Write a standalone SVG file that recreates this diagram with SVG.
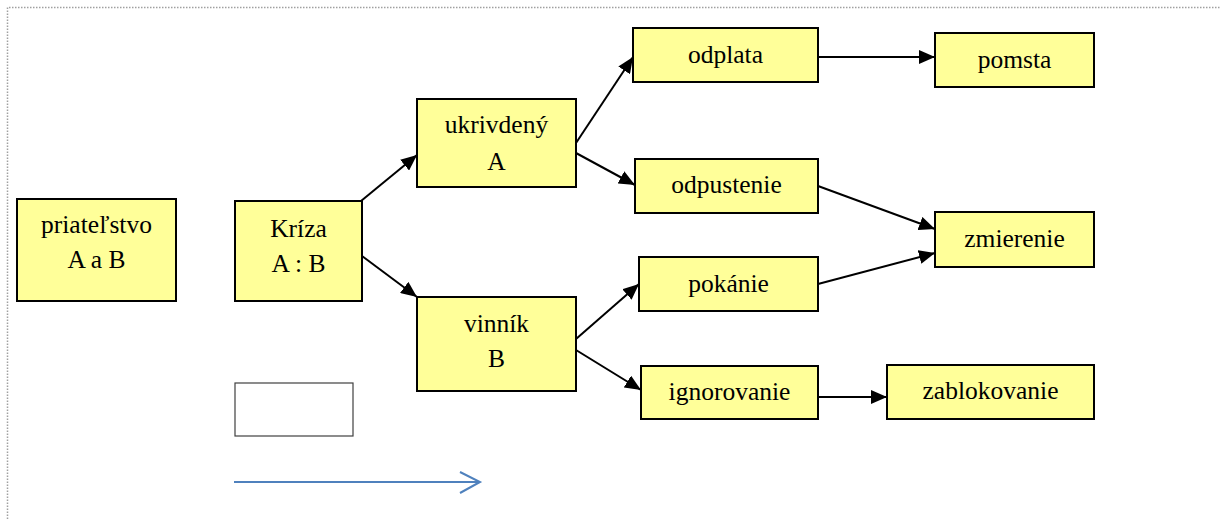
<svg xmlns="http://www.w3.org/2000/svg" width="1221" height="519" viewBox="0 0 1221 519">
<style>
.box{fill:#FFFF99;stroke:#000;stroke-width:2}
.t{font-family:"Liberation Serif","Times New Roman",serif;font-size:25.5px;fill:#000;text-anchor:middle}
.c{stroke:#000;stroke-width:2;fill:none;marker-end:url(#ah)}
.frame{stroke:#A0A0A0;stroke-width:1.5;stroke-dasharray:1.5 1.5;fill:none}
</style>
<defs>
<marker id="ah" markerUnits="userSpaceOnUse" markerWidth="16" markerHeight="14" refX="16" refY="7" orient="auto">
<path d="M0,0 L16,7 L0,14 Z" fill="#000"/>
</marker>
</defs>
<g id="frame">
<path class="frame" d="M7.5,519 V7.5 H1221"/>
</g>
<g id="connectors">
<line class="c" x1="361" y1="201" x2="417" y2="155"/>
<line class="c" x1="362" y1="256" x2="417" y2="297"/>
<line class="c" x1="576" y1="143" x2="633" y2="57"/>
<line class="c" x1="576" y1="153" x2="635" y2="185"/>
<line class="c" x1="818" y1="57" x2="935" y2="57"/>
<line class="c" x1="818" y1="186" x2="935" y2="229"/>
<line class="c" x1="818" y1="284" x2="935" y2="253"/>
<line class="c" x1="576" y1="339" x2="639" y2="284"/>
<line class="c" x1="576" y1="350" x2="641" y2="390"/>
<line class="c" x1="818" y1="397" x2="887" y2="397"/>
</g>
<g id="priatelstvo">
<rect class="box" x="17" y="199" width="159" height="102"/>
<text class="t" x="96.5" y="233">priateľstvo</text>
<text class="t" x="96.5" y="268">A a B</text>
</g>
<g id="kriza">
<rect class="box" x="235" y="201" width="127" height="100"/>
<text class="t" x="298.5" y="237">Kríza</text>
<text class="t" x="298.5" y="272">A : B</text>
</g>
<g id="empty">
<rect x="235" y="383" width="118" height="53" fill="#fff" stroke="#404040" stroke-width="1.2"/>
</g>
<g id="timeline">
<line x1="234" y1="482" x2="479" y2="482" stroke="#4F81BD" stroke-width="2"/>
<path d="M460,472 L480,482 L460,493" fill="none" stroke="#4F81BD" stroke-width="2"/>
</g>
<g id="ukrivdeny">
<rect class="box" x="417" y="99" width="159" height="88"/>
<text class="t" x="496.5" y="133">ukrivdený</text>
<text class="t" x="496.5" y="170">A</text>
</g>
<g id="vinnik">
<rect class="box" x="417" y="297" width="159" height="94"/>
<text class="t" x="496.5" y="332">vinník</text>
<text class="t" x="496.5" y="367">B</text>
</g>
<g id="odplata">
<rect class="box" x="633" y="28" width="185" height="54"/>
<text class="t" x="725.5" y="63">odplata</text>
</g>
<g id="odpustenie">
<rect class="box" x="635" y="159" width="183" height="54"/>
<text class="t" x="726.5" y="193">odpustenie</text>
</g>
<g id="pokanie">
<rect class="box" x="639" y="257" width="179" height="54"/>
<text class="t" x="728.5" y="292">pokánie</text>
</g>
<g id="ignorovanie">
<rect class="box" x="641" y="366" width="177" height="53"/>
<text class="t" x="729.5" y="400">ignorovanie</text>
</g>
<g id="pomsta">
<rect class="box" x="935" y="33" width="159" height="54"/>
<text class="t" x="1014.5" y="68">pomsta</text>
</g>
<g id="zmierenie">
<rect class="box" x="935" y="212" width="159" height="55"/>
<text class="t" x="1014.5" y="247">zmierenie</text>
</g>
<g id="zablokovanie">
<rect class="box" x="887" y="365" width="207" height="54"/>
<text class="t" x="990.5" y="399">zablokovanie</text>
</g>
</svg>
